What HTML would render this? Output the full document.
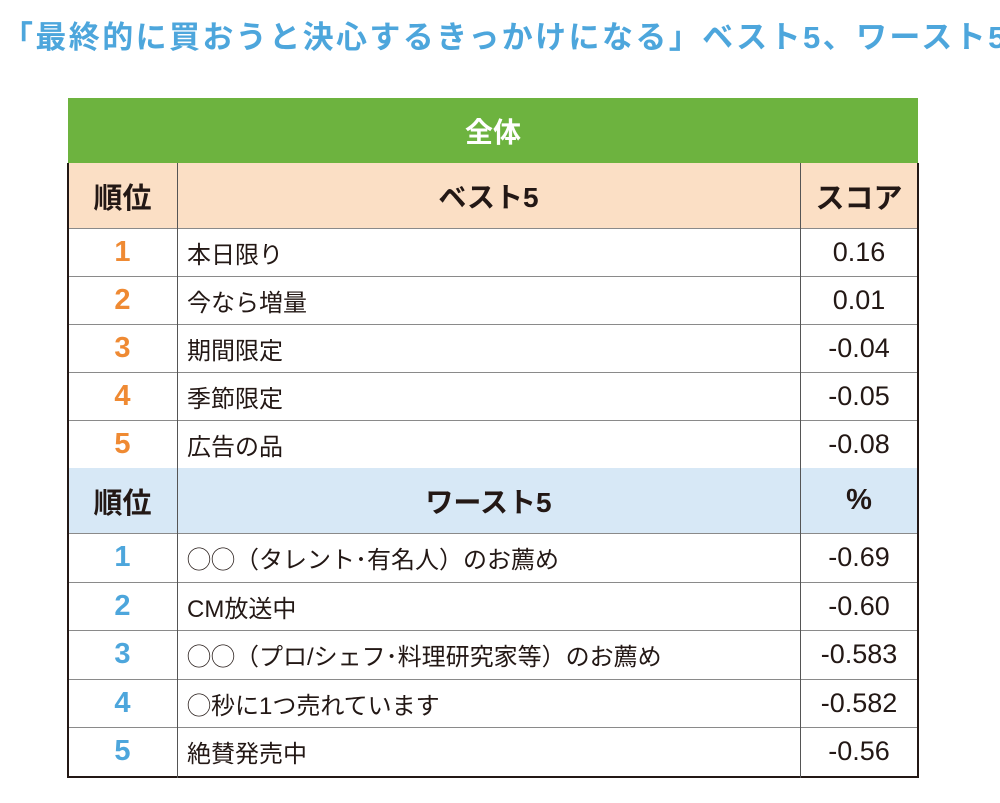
<!DOCTYPE html>
<html><head><meta charset="utf-8"><style>
body{margin:0;width:1000px;height:803px;background:#fff;position:relative;overflow:hidden;font-family:"Liberation Sans","Noto Sans CJK JP",sans-serif;}
.a{position:absolute;box-sizing:border-box;}
.t{display:flex;align-items:center;justify-content:center;}
.l{justify-content:flex-start;padding-left:10px;}
</style></head><body>
<div class="a" style="left:2px;top:12px;width:998px;font-size:31px;font-weight:bold;color:#4da6dc;white-space:nowrap;letter-spacing:2.4px">「最終的に買おうと決心するきっかけになる」ベスト5、ワースト5</div>
<div id="tbl"></div>
<script>
const best=[["本日限り","0.16"],["今なら増量","0.01"],["期間限定","-0.04"],["季節限定","-0.05"],["広告の品","-0.08"]];
const worst=[["◯◯（タレント･有名人）のお薦め","-0.69"],["CM放送中","-0.60"],["◯◯（プロ/シェフ･料理研究家等）のお薦め","-0.583"],["◯秒に1つ売れています","-0.582"],["絶賛発売中","-0.56"]];
const X0=68,X1=177,X2=800,X3=918;
const T=document.getElementById('tbl');
function box(x,y,w,h,style,html,name){const d=document.createElement('div');d.className='a t'+(style.l?' l':'');


d.style.cssText=`left:${x}px;top:${y}px;width:${w}px;height:${h}px;`+(style.css||'');d.innerHTML=html||'';T.appendChild(d);return d;}
box(X0,98,X3-X0,65,{css:'background:#6db33f;color:#fff;font-size:28px;font-weight:bold;'},'全体','green-header');
function section(y0,head,bg,rows,ys,numColor,label,sc){
 box(X0,y0,X3-X0,65,{css:'background:'+bg},'','section-header-bg');
 box(X0,y0,X1-X0,65,{css:'font-size:29px;font-weight:bold;color:#231815'},'順位','rank-header');
 box(X1,y0,X2-X1,65,{css:'font-size:28px;font-weight:bold;color:#231815'},head,'section-title');
 box(X2,y0,X3-X2,65,{css:'font-size:29px;font-weight:bold;color:#231815'},sc,'score-header');
 rows.forEach((r,i)=>{const y=ys[i],h=ys[i+1]-ys[i];
  box(X0,y,X3-X0,h,{css:'border-top:1px solid #8a8a8a'},'','row-line');
  box(X0,y,X1-X0,h,{css:'color:'+numColor+';font-size:29px;font-weight:bold'},String(i+1),label+'-rank');
  box(X1,y,X2-X1,h,{l:1,css:'font-size:24px;color:#231815;white-space:nowrap'},r[0],label+'-item');
  box(X2,y,X3-X2,h,{css:'font-size:27px;color:#231815'},r[1],label+'-score');
 });
}
section(163,'ベスト5','#fbdfc5',best,[228,276,324,372,420,468],'#ef8a33','best','スコア');
section(468,'ワースト5','#d7e8f6',worst,[533,582,630,679,727,776],'#4da6dc','worst','%');
box(X0,776,X3-X0,2,{css:'background:#231815'},'','bottom-border');
box(X0-1,163,2,615,{css:'background:#231815'},'','left-border');
box(X3-1,163,2,615,{css:'background:#231815'},'','right-border');
box(X1,163,1,615,{css:'background:#555'},'','col-line-1');
box(X2,163,1,615,{css:'background:#555'},'','col-line-2');
</script>
</body></html>
